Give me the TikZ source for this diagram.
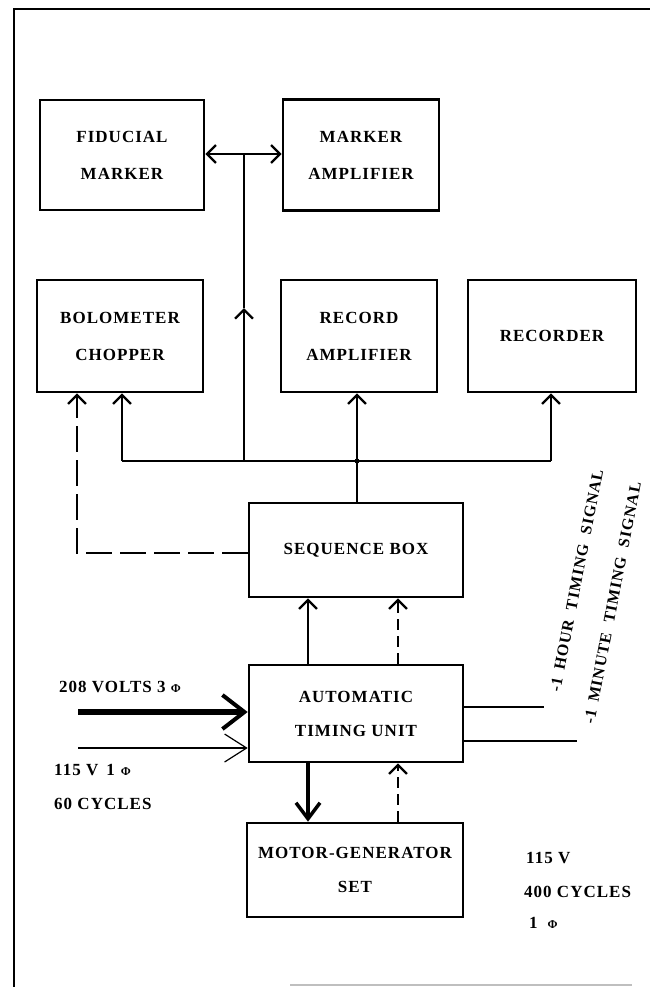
\documentclass[tikz,border=0pt]{standalone}
\usepackage{fontspec}
\setmainfont{Liberation Serif}[LetterSpace=6]
\usepackage{xcolor}
\usepackage{tikz}
\usetikzlibrary{arrows.meta}

\newcommand{\phase}{{\fontsize{12}{12}\selectfont Φ}}

\begin{document}
\begin{tikzpicture}[x=1pt, y=-1pt,
    every node/.style={font=\fontsize{17}{20}\selectfont\bfseries, inner sep=0pt},
    unit/.style={draw, line width=2.6pt, align=center},
    sig/.style={line width=2.3pt},
    dashlong/.style={line width=2.3pt, dash pattern=on 26pt off 8pt},
    dashshort/.style={line width=2.3pt, dash pattern=on 11pt off 6pt},
    >={Straight Barb[length=9pt,width=18pt]}]
      \useasboundingbox (0,0) rectangle (650,988);
      % frame
      \draw[line width=2.2pt] (650,9) -- (14,9) -- (14,987);
      \draw[gray!50, line width=1.5pt] (290,985) -- (632,985);
      % marker row
      \node[unit, minimum width=164pt, minimum height=110pt] (fid) at (122,155) {FIDUCIAL\\[17pt]MARKER};
      \node[unit, minimum width=156pt, minimum height=111pt] (mamp) at (361,155) {MARKER\\[17pt]AMPLIFIER};
      % recording row
      \node[unit, minimum width=166pt, minimum height=112pt] (bolo) at (120,336) {BOLOMETER\\[17pt]CHOPPER};
      \node[unit, minimum width=156pt, minimum height=112pt] (ramp) at (359,336) {RECORD\\[17pt]AMPLIFIER};
      \node[unit, minimum width=168pt, minimum height=112pt] (rec) at (552,336) {RECORDER};
      % control chain
      \node[unit, minimum width=214pt, minimum height=94pt] (seq) at (356,550) {SEQUENCE BOX};
      \node[unit, minimum width=214pt, minimum height=97pt] (atu) at (356,713.5) {AUTOMATIC\\[14pt]TIMING UNIT};
      \node[unit, minimum width=216pt, minimum height=94pt] (mg) at (355,870) {MOTOR-GENERATOR\\[14pt]SET};
      % bus points
      \coordinate (busL) at (122,461);
      \coordinate (busR) at (551,461);
      \coordinate (busM) at (357,461);
      \coordinate (busV) at (244,461);
      \coordinate (mk) at (244,154);
      \coordinate (mkup) at (244,308);
      \coordinate (dsh) at (77,553);
      \coordinate (upA) at (308,630);
      \coordinate (upB) at (398,630);
      \coordinate (in3) at (78,712);
      \coordinate (in1) at (78,748);
      \coordinate (out1) at (544,707);
      \coordinate (out2) at (577,741);
      % sequence bus
      \draw[sig] (busL) -- (busR);
      \draw[sig, ->] (busL) -- (busL |- bolo.south);
      \draw[sig, ->] (busR) -- (busR |- rec.south);
      \draw[sig, ->] (busM) -- (busM |- ramp.south);
      \draw[sig] (seq.north -| busM) -- (busM);
      \fill (busM) circle (2.5);
      % marker feed
      \draw[sig, ->] (busV) -- (mkup);
      \draw[sig] (mkup) -- (mk);
      \draw[sig, <->] (fid.east |- mk) -- (mamp.west |- mk);
      % dashed feed to chopper
      \draw[dashlong, ->] (seq.west |- dsh) -- (dsh) -- (dsh |- bolo.south);
      % timing unit to sequence box
      \draw[sig, ->] (atu.north -| upA) -- (seq.south -| upA);
      \draw[dashshort, ->] (atu.north -| upB) -- (seq.south -| upB);
      % motor-generator
      \draw[line width=4.5pt, -{Straight Barb[length=16pt,width=24pt,line width=3.5pt]}] (atu.south -| upA) -- (mg.north -| upA);
      \draw[dashshort, ->] (mg.north -| upB) -- (atu.south -| upB);
      % supply
      \draw[line width=6pt, -{Straight Barb[length=22pt,width=34pt,line width=4pt]}] (in3) -- (in3 -| atu.west);
      \draw[line width=2.5pt, -{Straight Barb[length=22pt,width=28pt,line width=1.2pt]}] (in1) -- (in1 -| atu.west);
      \node[anchor=west] (v208) at (59,687) {208 VOLTS 3 \phase};
      \node[anchor=west] (v115) at (54,770) {115 V\hspace{8pt}1\hspace{6pt}\phase};
      \node[anchor=west] (c60) at (54,804) {60 CYCLES};
      % timing signals
      \draw[sig] (atu.east |- out1) -- (out1);
      \draw[sig] (atu.east |- out2) -- (out2);
      \node[anchor=west, rotate=79, font=\fontsize{16}{19}\selectfont\bfseries] (hrsig) at (555,692) {-1\hspace{8pt}HOUR\hspace{10pt}TIMING\hspace{10pt}SIGNAL};
      \node[anchor=west, rotate=79, font=\fontsize{16}{19}\selectfont\bfseries] (minsig) at (589,724) {-1\hspace{8pt}MINUTE\hspace{10pt}TIMING\hspace{10pt}SIGNAL};
      % generator output
      \node[anchor=west] (m115) at (526,858) {115 V};
      \node[anchor=west] (c400) at (524,892) {400 CYCLES};
      \node[anchor=west] (ph1) at (529,923) {1\hspace{10pt}\phase};
\end{tikzpicture}
\end{document}
